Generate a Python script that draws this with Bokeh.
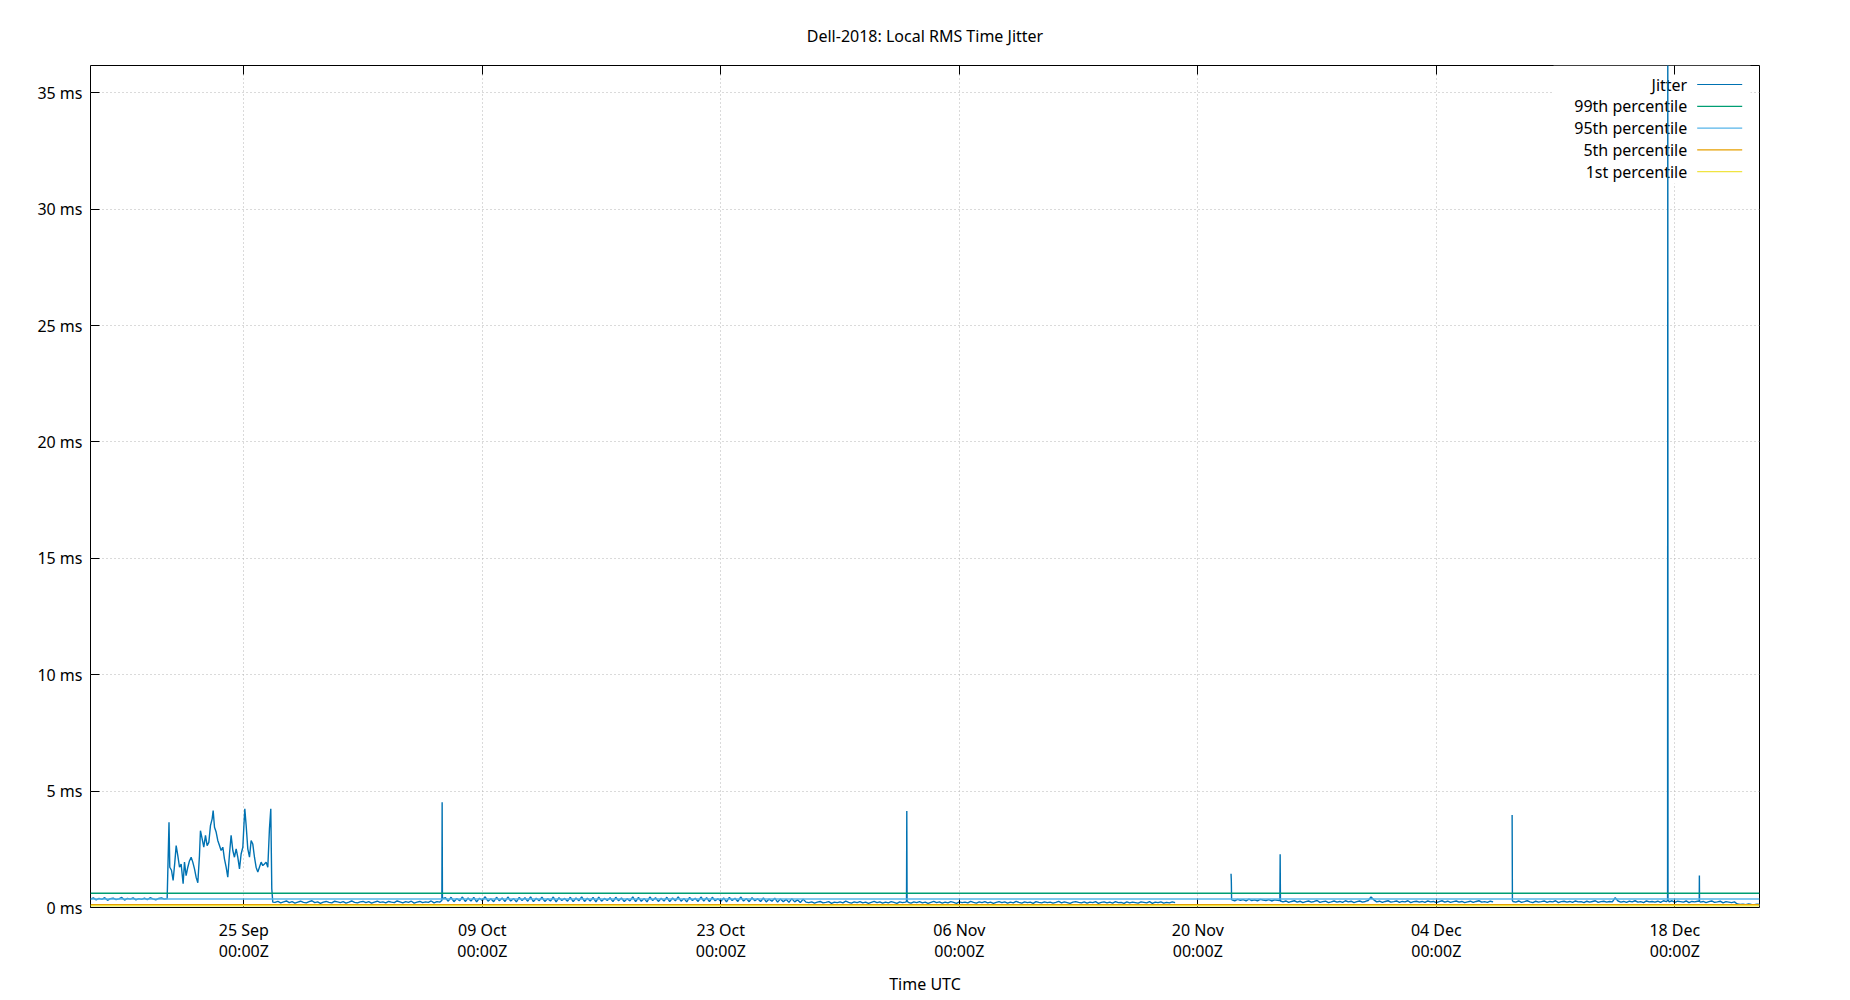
import math
import pandas as pd
from bokeh.plotting import figure
from bokeh.models import (Range1d, FixedTicker, DatetimeTickFormatter, PrintfTickFormatter,
                          DatetimeAxis, CustomJSTickFormatter, Span, Label, Arrow, BoxAnnotation)
from bokeh.embed import file_html
from bokeh.resources import INLINE

# ---------------- data ----------------
title_text = "Dell-2018: Local RMS Time Jitter"
x_label = "Time UTC"
t0 = "2018-09-16 00:00"          # start of the record (hours below are counted from here)
x_end_hours = 2351.3              # end of the record
tick_dates = ["2018-09-25", "2018-10-09", "2018-10-23", "2018-11-06",
              "2018-11-20", "2018-12-04", "2018-12-18"]
y_ticks = [0, 5, 10, 15, 20, 25, 30, 35]
y_max = 36.17

pct_labels = ["99th percentile", "95th percentile", "5th percentile", "1st percentile"]
pct_values = [0.615, 0.37, 0.12, 0.08]
series_label = "Jitter"

# regularly sampled stretches (every 4 h from start hour)
seg_a_start = 0
seg_a = [0.36, 0.41, 0.33, 0.39, 0.35, 0.42, 0.31, 0.38, 0.40, 0.34, 0.37, 0.43, 0.32, 0.39,
         0.36, 0.41, 0.33, 0.38, 0.35, 0.40, 0.34, 0.42, 0.37, 0.33, 0.39, 0.41, 0.36, 0.38]

burst_hours = [110.6, 111.7, 114.1, 116.4, 118.8, 120.7, 123.0, 125.4, 127.7, 130.5, 132.4, 134.7,
               137.1, 139.4, 141.8, 144.1, 146.5, 148.8, 151.2, 153.5, 154.9, 157.3, 159.6, 162.0,
               164.3, 166.7, 169.0, 171.4, 172.8, 174.7, 177.0, 179.3, 181.7, 184.0, 186.4, 188.7,
               191.1, 193.4, 195.8, 198.1, 200.5, 202.8, 205.2, 207.5, 209.9, 212.2, 214.6, 216.0,
               217.4, 219.3, 221.6, 224.0, 226.3, 228.6, 231.0, 233.3, 235.7, 238.0, 240.4, 242.7,
               245.1, 247.4, 249.8, 252.1, 254.0, 255.4, 256.8]
burst_ms = [3.66, 1.73, 1.60, 1.16, 1.95, 2.66, 2.23, 1.73, 1.87, 1.02, 1.95, 1.37, 1.73, 2.00,
            2.16, 1.95, 1.66, 1.30, 1.06, 2.23, 3.30, 2.95, 2.59, 3.10, 2.66, 2.80, 3.52, 3.81,
            4.16, 3.45, 3.24, 2.88, 2.66, 2.45, 2.59, 2.09, 1.73, 1.30, 2.30, 3.10, 2.45, 2.16,
            2.52, 2.16, 1.66, 2.30, 2.59, 3.45, 4.24, 3.52, 2.52, 2.16, 2.88, 2.73, 2.16, 1.73,
            1.52, 1.73, 1.95, 1.80, 1.87, 1.95, 1.73, 3.38, 4.24, 0.80, 0.23]

seg_c_start = 260
seg_c = [0.22, 0.26, 0.20, 0.24, 0.28, 0.21, 0.25, 0.19, 0.23, 0.27,
         0.22, 0.20, 0.25, 0.29, 0.21, 0.24, 0.18, 0.23, 0.26, 0.22,
         0.20, 0.27, 0.24, 0.21, 0.25, 0.19, 0.23, 0.28, 0.22, 0.20,
         0.24, 0.26, 0.21, 0.25, 0.19, 0.23, 0.27, 0.22, 0.24, 0.20,
         0.26, 0.23, 0.21, 0.28, 0.24, 0.20, 0.25, 0.22, 0.27, 0.19,
         0.23, 0.26, 0.21, 0.24, 0.22, 0.28, 0.20, 0.25, 0.23]

seg_d_start = 500
seg_d = [0.42, 0.27, 0.44, 0.25, 0.39, 0.29, 0.45, 0.26, 0.41, 0.28,
         0.43, 0.24, 0.40, 0.30, 0.46, 0.27, 0.38, 0.25, 0.44, 0.29,
         0.41, 0.26, 0.45, 0.28, 0.39, 0.24, 0.43, 0.30, 0.42, 0.27,
         0.46, 0.25, 0.40, 0.29, 0.44, 0.26, 0.38, 0.28, 0.45, 0.24,
         0.42, 0.30, 0.39, 0.27, 0.44, 0.25, 0.41, 0.29, 0.46, 0.26,
         0.40, 0.28, 0.43, 0.24, 0.45, 0.27, 0.39, 0.30, 0.42, 0.25,
         0.44, 0.29, 0.41, 0.26, 0.38, 0.28, 0.46, 0.25, 0.43, 0.27,
         0.39, 0.24, 0.45, 0.30, 0.42, 0.26, 0.40, 0.28, 0.44, 0.25,
         0.41, 0.29, 0.46, 0.27, 0.39, 0.24, 0.43, 0.30, 0.40, 0.26,
         0.45, 0.28, 0.42, 0.25, 0.44, 0.29, 0.38, 0.27, 0.41, 0.24,
         0.43, 0.30, 0.40, 0.26, 0.45, 0.28, 0.39, 0.25, 0.42, 0.29,
         0.38, 0.26, 0.41, 0.24, 0.36, 0.27, 0.40, 0.23, 0.37, 0.25,
         0.35, 0.22, 0.38, 0.24, 0.33, 0.21, 0.36, 0.23]

seg_e1_start = 1012
seg_e1 = [0.21, 0.24, 0.19, 0.23, 0.26, 0.20, 0.22, 0.25, 0.18, 0.23,
          0.21, 0.24, 0.20, 0.27, 0.22, 0.19, 0.24, 0.21, 0.25, 0.20,
          0.23, 0.18, 0.22, 0.26, 0.21, 0.24, 0.19, 0.23, 0.20, 0.25,
          0.22, 0.18, 0.24, 0.21, 0.23]

seg_e2_start = 1152
seg_e2 = [0.22, 0.19, 0.24, 0.21, 0.25, 0.20, 0.23, 0.18, 0.22, 0.26,
          0.21, 0.24, 0.19, 0.23, 0.20, 0.25, 0.22, 0.18, 0.24, 0.21,
          0.23, 0.20, 0.26, 0.22, 0.19, 0.24, 0.21, 0.25, 0.20, 0.23,
          0.18, 0.22, 0.25, 0.21, 0.24, 0.19, 0.23, 0.20, 0.26, 0.22,
          0.19, 0.24, 0.21, 0.23, 0.18, 0.25, 0.22, 0.20, 0.24, 0.21,
          0.23, 0.19, 0.22, 0.26, 0.20, 0.24, 0.21, 0.18, 0.23, 0.25,
          0.22, 0.20, 0.24, 0.19, 0.23, 0.21, 0.25, 0.18, 0.22, 0.24,
          0.20, 0.23, 0.19, 0.25, 0.21, 0.22, 0.18, 0.24, 0.20, 0.23,
          0.21, 0.19, 0.24, 0.22, 0.20, 0.25, 0.18, 0.23, 0.21, 0.24,
          0.19, 0.22, 0.20, 0.24, 0.21]

seg_f1_start = 1608
seg_f1 = [0.33, 0.29, 0.35, 0.31, 0.34, 0.28, 0.36, 0.30, 0.33, 0.29, 0.35, 0.32, 0.30, 0.34,
          0.28, 0.33, 0.31]

seg_f2_start = 1680
seg_f2 = [0.24, 0.28, 0.22, 0.26, 0.29, 0.23, 0.27, 0.21, 0.25, 0.28,
          0.23, 0.26, 0.30, 0.22, 0.25, 0.27, 0.21, 0.24, 0.28, 0.23,
          0.26, 0.22, 0.29, 0.24, 0.27, 0.21, 0.25, 0.28, 0.23, 0.26,
          0.30, 0.45, 0.33, 0.24, 0.27, 0.22, 0.26, 0.29, 0.23, 0.25,
          0.28, 0.22, 0.26, 0.24, 0.29, 0.21, 0.25, 0.27, 0.23, 0.26,
          0.22, 0.28, 0.24, 0.26, 0.21, 0.25, 0.29, 0.23, 0.27, 0.22,
          0.25, 0.28, 0.23, 0.26, 0.21, 0.24, 0.27, 0.22, 0.26, 0.29,
          0.23, 0.25, 0.22, 0.27, 0.24]

seg_g1_start = 2004
seg_g1 = [0.26, 0.23, 0.28, 0.22, 0.25, 0.29, 0.24, 0.21, 0.27, 0.23,
          0.25, 0.28, 0.22, 0.26, 0.24, 0.29, 0.21, 0.25, 0.27, 0.23,
          0.26, 0.22, 0.28, 0.24, 0.25, 0.21, 0.27, 0.23, 0.26, 0.29,
          0.22, 0.25, 0.27, 0.23, 0.26, 0.24, 0.42, 0.28, 0.23, 0.26,
          0.22, 0.27, 0.24, 0.29, 0.23, 0.25, 0.21, 0.28, 0.24, 0.26,
          0.23, 0.27, 0.22, 0.29, 0.25]

seg_g2_start = 2224
seg_g2 = [0.24, 0.29, 0.22, 0.27, 0.25, 0.23, 0.28, 0.21, 0.26, 0.24, 0.27]

seg_g3_start = 2268
seg_g3 = [0.23, 0.26, 0.21, 0.25, 0.28, 0.22, 0.24, 0.27, 0.20, 0.25, 0.23, 0.21, 0.24]

seg_g4_start = 2320
seg_g4 = [0.15, 0.13, 0.14, 0.12, 0.15, 0.13, 0.12, 0.14, 0.13]
sample_step_hours = 4

# spikes and short events (hour, ms)
spike_hours = [495.0, 495.4, 495.8,
               1149.6, 1150.0, 1150.4,
               1606.8, 1607.2, 1607.6,
               1675.6, 1676.0, 1676.4,
               2002.8, 2003.2,
               2221.8, 2222.1, 2222.4,
               2266.4, 2266.6, 2266.8]
spike_ms = [0.30, 4.52, 0.38,
            0.25, 4.14, 0.30,
            1.45, 1.15, 0.32,
            0.30, 2.29, 0.28,
            3.97, 0.30,
            0.30, 36.6, 0.35,
            0.28, 1.37, 0.27]

# hours with no data (line is broken there)
gap_hours = [1560.0, 1990.0]

# ---------------- assemble ----------------
samples = []
for start, vals in [(seg_a_start, seg_a), (seg_c_start, seg_c), (seg_d_start, seg_d),
                    (seg_e1_start, seg_e1), (seg_e2_start, seg_e2), (seg_f1_start, seg_f1),
                    (seg_f2_start, seg_f2), (seg_g1_start, seg_g1), (seg_g2_start, seg_g2),
                    (seg_g3_start, seg_g3), (seg_g4_start, seg_g4)]:
    samples += [(start + i * sample_step_hours, v) for i, v in enumerate(vals)]
samples += list(zip(burst_hours, burst_ms))
samples += list(zip(spike_hours, spike_ms))
samples += [(h, float("nan")) for h in gap_hours]
samples.sort(key=lambda s: s[0])

start_ts = pd.Timestamp(t0)
jitter_t = [start_ts + pd.Timedelta(hours=h) for h, _ in samples]
jitter_v = [v for _, v in samples]

tick_ms = [pd.Timestamp(d).value // 10**6 for d in tick_dates]

FONT = "Noto Sans"
colors = {"Jitter": "#0072b2", "99th percentile": "#009e73", "95th percentile": "#56b4e9",
          "5th percentile": "#e69f00", "1st percentile": "#f0e442"}

p = figure(frame_width=1669, frame_height=842, x_axis_type="datetime",
           x_range=Range1d(start_ts, start_ts + pd.Timedelta(hours=x_end_hours)),
           y_range=Range1d(0, y_max),
           output_backend="svg", toolbar_location=None,
           min_border_left=90, min_border_right=60, min_border_top=65, min_border_bottom=60,
           background_fill_color="white", border_fill_color="white")

p.title.text = title_text
p.title.align = "center"
p.title.text_font = FONT
p.title.text_font_size = "16px"
p.title.text_font_style = "normal"
p.title.text_color = "black"
p.title.standoff = 38

p.outline_line_color = "black"
p.outline_line_width = 1
p.outline_line_alpha = 1

xa = p.xaxis[0]
xa.ticker = FixedTicker(ticks=tick_ms)
fmt = "%d %b\n%H:%MZ"
xa.formatter = DatetimeTickFormatter(days=fmt, months=fmt, years=fmt, hours=fmt,
                                     hourmin=fmt, minutes=fmt, minsec=fmt, seconds=fmt)
xa.major_tick_in = 9
xa.major_tick_out = 0
xa.minor_tick_line_color = None
xa.axis_line_color = None
xa.major_tick_line_color = "black"
xa.major_label_standoff = 11
xa.major_label_text_font = FONT
xa.major_label_text_font_size = "16px"
xa.major_label_text_color = "black"
xa.major_label_text_line_height = 0.97
xa.axis_label = x_label
xa.axis_label_text_font = FONT
xa.axis_label_text_font_size = "16px"
xa.axis_label_text_font_style = "normal"
xa.axis_label_text_color = "black"
xa.axis_label_standoff = 8

ya = p.yaxis[0]
ya.ticker = FixedTicker(ticks=y_ticks)
ya.formatter = PrintfTickFormatter(format="%d ms")
ya.major_tick_in = 9
ya.major_tick_out = 0
ya.minor_tick_line_color = None
ya.axis_line_color = None
ya.major_tick_line_color = "black"
ya.major_label_standoff = 8
ya.major_label_text_font = FONT
ya.major_label_text_font_size = "16px"
ya.major_label_text_color = "black"

top = DatetimeAxis(ticker=FixedTicker(ticks=tick_ms),
                   formatter=CustomJSTickFormatter(code="return ''"),
                   major_tick_in=9, major_tick_out=0, axis_line_color=None,
                   minor_tick_line_color=None, major_label_standoff=0,
                   major_label_text_font_size="1px")
p.add_layout(top, "above")

for g in (p.xgrid[0], p.ygrid[0]):
    g.grid_line_color = "#b4b4b4"
    g.grid_line_dash = "1 3"
    g.grid_line_width = 1

# legend background (hides grid under the key)
p.add_layout(BoxAnnotation(left=1463, right=1660, top=842, bottom=724,
                           left_units="screen", right_units="screen",
                           top_units="screen", bottom_units="screen",
                           fill_color="white", fill_alpha=1, line_color=None,
                           level="underlay"))

p.line(x=jitter_t, y=jitter_v, line_color=colors[series_label], line_width=1.4)

for lab, val in zip(pct_labels, pct_values):
    p.add_layout(Span(location=val, dimension="width", line_color=colors[lab], line_width=1.5))

# key: text on the left, line sample on the right
key_labels = [series_label] + pct_labels
for i, lab in enumerate(key_labels):
    yk = 823 - i * 21.8
    p.add_layout(Label(x=1596.7, y=yk, x_units="screen", y_units="screen", text=lab,
                       text_align="right", text_baseline="middle", text_font=FONT,
                       text_font_size="16px", text_color="black", level="underlay"))
    p.add_layout(Arrow(end=None, x_start=1606.7, y_start=yk, x_end=1651.7, y_end=yk,
                       start_units="screen", end_units="screen",
                       line_color=colors[lab], line_width=1.2))

open("out.html", "w").write(file_html(p, INLINE))
